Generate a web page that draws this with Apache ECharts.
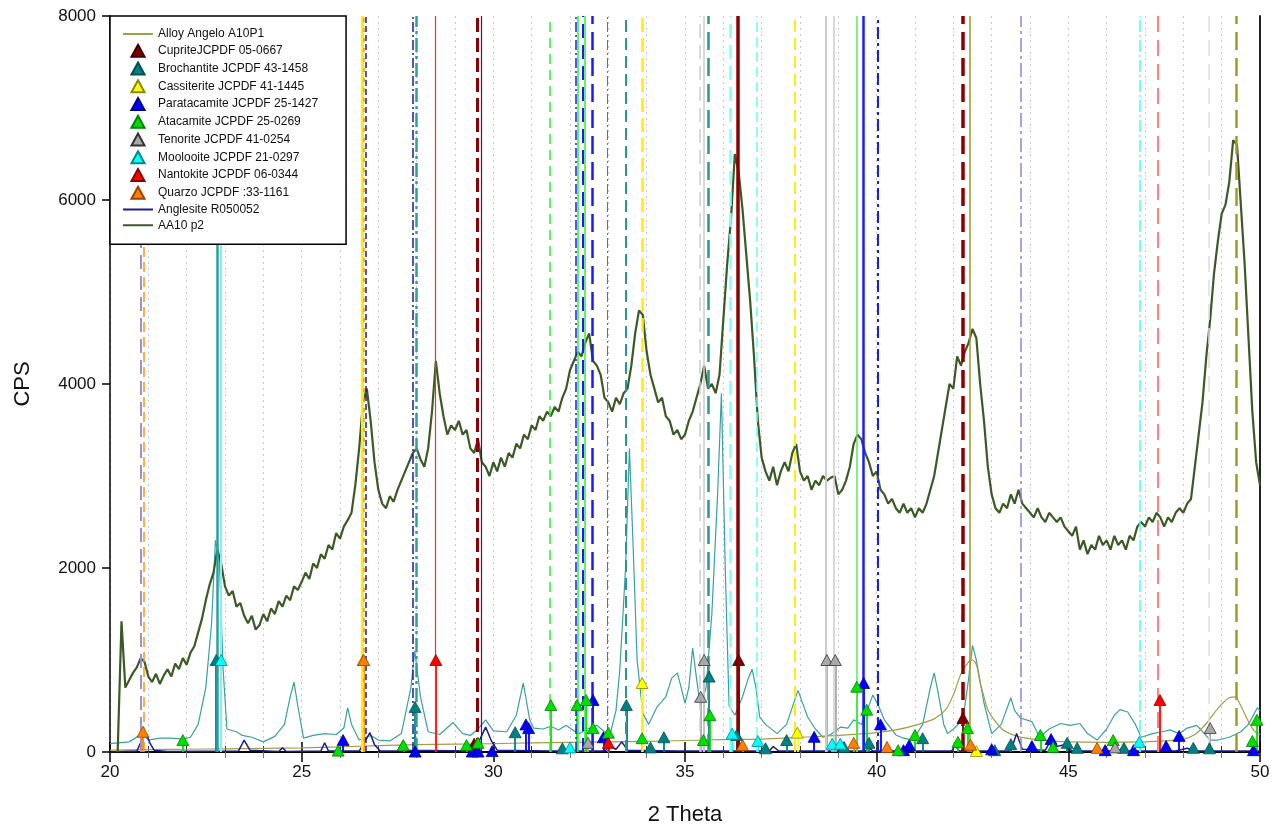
<!DOCTYPE html>
<html>
<head>
<meta charset="utf-8">
<script src="https://cdn.jsdelivr.net/npm/echarts@6/dist/echarts.min.js"></script>
<style>
html, body { margin: 0; background: #fff; }
#chart { width: 1280px; height: 831px; }
</style>
</head>
<body>
<div id="chart"></div>
<script>
var font = "Liberation Sans";

// AA10 p2 measured pattern, one reading every 0.1 deg from 20.2
var aaStart = 20.2;
var aaStep = 0.1;
var aaCps = [
	0, 1420, 700, 780, 860, 920, 1020, 980, 820, 760,          // 20.2
	850, 740, 830, 900, 820, 960, 900, 1020, 950, 1080,        // 21.2
	1150, 1300, 1450, 1650, 1820, 1950, 2200, 2050, 1800, 1700, // 22.2
	1750, 1580, 1620, 1480, 1400, 1480, 1330, 1380, 1500, 1420, // 23.2
	1560, 1500, 1640, 1580, 1700, 1650, 1800, 1760, 1850, 1950, // 24.2
	1880, 2050, 2000, 2150, 2100, 2250, 2200, 2380, 2320, 2450, // 25.2
	2520, 2600, 2900, 3300, 3800, 3950, 3600, 3150, 2850, 2700, // 26.2
	2650, 2780, 2720, 2850, 2950, 3050, 3150, 3250, 3300, 3180, // 27.2
	3100, 3300, 3700, 4250, 3900, 3650, 3450, 3550, 3500, 3600, // 28.2
	3450, 3500, 3300, 3250, 3400, 3150, 3100, 3000, 3150, 3050, // 29.2
	3200, 3100, 3250, 3200, 3350, 3300, 3450, 3400, 3550, 3500, // 30.2
	3650, 3600, 3700, 3650, 3750, 3700, 3850, 3950, 4150, 4250, // 31.2
	4350, 4300, 4450, 4550, 4250, 4200, 4100, 3850, 3800, 3700, // 32.2
	3850, 3780, 3900, 3950, 4200, 4550, 4800, 4750, 4350, 4100, // 33.2
	3950, 3800, 3850, 3650, 3600, 3450, 3500, 3400, 3450, 3600, // 34.2
	3700, 3850, 4000, 4200, 3950, 4000, 3900, 4100, 4700, 5300, // 35.2
	5800, 6500, 6300, 5900, 5400, 4900, 4300, 3600, 3200, 3050, // 36.2
	2950, 3100, 2900, 3050, 3150, 3050, 3250, 3350, 3050, 2950, // 37.2
	3000, 2850, 2950, 2900, 3000, 2950, 2980, 3000, 2800, 2850, // 38.2
	2950, 3100, 3350, 3450, 3400, 3250, 3150, 3000, 3050, 2850, // 39.2
	2800, 2700, 2750, 2650, 2600, 2700, 2600, 2650, 2550, 2650, // 40.2
	2600, 2700, 2850, 3000, 3250, 3500, 3750, 4000, 3950, 4300, // 41.2
	4200, 4350, 4450, 4600, 4500, 4000, 3600, 3100, 2800, 2650, // 42.2
	2600, 2700, 2650, 2800, 2700, 2850, 2700, 2650, 2600, 2550, // 43.2
	2650, 2550, 2500, 2600, 2550, 2500, 2550, 2450, 2400, 2350, // 44.2
	2450, 2200, 2300, 2150, 2250, 2200, 2350, 2250, 2300, 2200, // 45.2
	2350, 2250, 2300, 2200, 2350, 2300, 2450, 2500, 2450, 2550, // 46.2
	2500, 2600, 2550, 2450, 2550, 2500, 2600, 2650, 2600, 2700, // 47.2
	2750, 3100, 3450, 3800, 4300, 4700, 5200, 5550, 5850, 5950, // 48.2
	6200, 6650, 6600, 5950, 5300, 4500, 3700, 3150, 2900        // 49.2
];

// teal reference trace (not in legend)
var tealTheta = [20.0, 20.5, 20.85, 21.0, 21.3, 21.6, 21.9, 22.1, 22.3, 22.5, 22.65, 22.75, 22.85, 22.95, 23.05, 23.3, 23.45, 23.7, 24.0, 24.3, 24.55, 24.7, 24.8, 24.9, 25.05, 25.3, 25.6, 25.9, 26.1, 26.2, 26.3, 26.5, 26.8, 27.0, 27.3, 27.6, 27.85, 27.95, 28.1, 28.3, 28.6, 28.95, 29.2, 29.4, 29.6, 29.8, 30.0, 30.35, 30.6, 30.78, 30.95, 31.05, 31.3, 31.5, 31.7, 31.9, 32.1, 32.25, 32.45, 32.7, 32.9, 33.05, 33.2, 33.3, 33.45, 33.55, 33.65, 33.75, 33.9, 34.05, 34.27, 34.5, 34.65, 34.8, 34.9, 35.0, 35.1, 35.2, 35.3, 35.4, 35.55, 35.7, 35.85, 35.95, 36.05, 36.15, 36.3, 36.5, 36.65, 36.75, 36.85, 36.95, 37.1, 37.4, 37.65, 37.85, 37.95, 38.05, 38.2, 38.4, 38.6, 38.8, 39.05, 39.25, 39.4, 39.6, 39.75, 39.9, 40.05, 40.2, 40.5, 40.7, 40.95, 41.2, 41.4, 41.5, 41.6, 41.75, 41.85, 42.0, 42.25, 42.4, 42.5, 42.6, 42.8, 43.0, 43.25, 43.5, 43.6, 43.75, 44.05, 44.25, 44.5, 44.8, 45.05, 45.3, 45.5, 45.75, 46.0, 46.2, 46.35, 46.55, 46.75, 46.9, 47.2, 47.45, 47.65, 47.9, 48.1, 48.35, 48.55, 48.7, 48.9, 49.2, 49.5, 49.7, 49.93, 50.0];
var tealCps = [90, 110, 200, 130, 150, 150, 140, 160, 300, 700, 1400, 2300, 2100, 900, 250, 220, 180, 160, 110, 170, 300, 600, 760, 500, 150, 180, 200, 190, 260, 480, 300, 130, 180, 130, 120, 200, 700, 1100, 600, 220, 190, 320, 200, 180, 250, 350, 230, 220, 400, 750, 350, 260, 250, 280, 240, 290, 230, 200, 250, 290, 220, 200, 450, 900, 2000, 3300, 2200, 1000, 420, 300, 490, 600, 800, 860, 700, 530, 700, 1130, 800, 500, 700, 1500, 2800, 3900, 2000, 500, 400, 600, 800, 900, 700, 380, 300, 200, 300, 550, 670, 550, 380, 250, 160, 190, 270, 260, 350, 300, 450, 620, 500, 350, 185, 150, 130, 300, 700, 860, 650, 300, 200, 250, 350, 800, 1160, 1000, 530, 200, 300, 590, 450, 370, 330, 160, 250, 310, 290, 310, 200, 130, 250, 400, 460, 435, 300, 160, 200, 220, 240, 200, 260, 290, 200, 130, 130, 160, 220, 300, 480, 450];

// Alloy Angelo A10P1
var alloyTheta = [20, 21, 22, 23, 24, 25, 26, 27, 28, 29, 30, 31, 32, 33, 34, 35, 36, 37, 38, 39, 40, 40.5, 41, 41.5, 41.8, 42.0, 42.2, 42.4, 42.5, 42.6, 42.7, 42.8, 42.9, 43.1, 43.3, 43.6, 43.9, 44.5, 45, 46, 47, 47.5, 48, 48.3, 48.6, 48.8, 49.0, 49.2, 49.35, 49.5, 49.7, 49.85, 50];
var alloyCps = [20, 25, 30, 35, 40, 45, 55, 70, 80, 85, 90, 100, 105, 110, 115, 125, 135, 140, 160, 180, 210, 240, 290, 360, 460, 620, 850, 980, 1000, 950, 750, 600, 460, 330, 240, 180, 150, 120, 110, 105, 110, 120, 140, 190, 310, 420, 520, 590, 600, 500, 330, 230, 190];

// Anglesite R050052
var anglTheta = [20.0, 20.7, 20.85, 20.95, 21.05, 21.15, 21.5, 23.35, 23.5, 23.65, 24.4, 24.5, 24.6, 25.5, 25.6, 25.7, 26.5, 26.7, 26.78, 26.9, 27.05, 27.5, 27.65, 27.75, 29.5, 29.7, 29.8, 29.95, 30.1, 31.5, 32.9, 33.05, 33.2, 33.35, 33.5, 34.8, 37.2, 37.3, 37.45, 39.7, 39.8, 39.9, 41.95, 42.05, 42.15, 43.5, 43.65, 43.8, 44.4, 44.55, 44.7, 44.9, 45.1, 47.8, 48.1, 48.3, 50.0];
var anglCps = [0, 10, 150, 190, 90, 20, 5, 10, 130, 20, 5, 45, 5, 10, 100, 10, 10, 150, 210, 80, 10, 10, 120, 20, 10, 180, 270, 120, 20, 10, 10, 60, 30, 110, 20, 10, 10, 60, 10, 10, 50, 10, 10, 70, 10, 10, 200, 30, 20, 130, 60, 80, 10, 10, 40, 10, 10];

// reference peaks [2theta, CPS]
var cuprite = [[29.5, 90], [36.4, 1000], [42.25, 370]];
var brochantite = [[22.77, 1000], [27.96, 490], [30.57, 215], [31.8, 40], [33.47, 510], [34.1, 50], [34.45, 160], [35.63, 820], [36.35, 185], [37.1, 40], [37.65, 130], [39.15, 55], [39.8, 100], [41.2, 150], [43.08, 20], [43.5, 85], [44.97, 100], [45.23, 45], [46.45, 45], [48.26, 45], [48.68, 40]];
var cassiterite = [[26.6, 1000], [33.88, 750], [37.93, 210], [42.6, 10]];
var paratacamite = [[26.08, 130], [27.96, 5], [29.45, 5], [29.6, 5], [29.97, 10], [30.85, 300], [30.92, 260], [32.6, 565], [32.87, 160], [38.37, 165], [39.66, 750], [40.1, 300], [40.7, 20], [40.85, 75], [43.0, 30], [44.05, 65], [44.55, 140], [45.96, 20], [46.7, 20], [47.55, 65], [47.89, 175], [49.83, 20]];
var atacamite = [[21.9, 130], [25.95, 15], [27.65, 75], [29.3, 75], [29.6, 100], [31.5, 510], [32.18, 510], [32.42, 565], [32.6, 260], [33.0, 210], [33.88, 150], [35.48, 130], [35.65, 400], [39.48, 710], [39.74, 460], [40.56, 20], [41.0, 185], [42.12, 110], [42.37, 260], [44.27, 185], [44.6, 55], [46.17, 130], [49.8, 120], [49.92, 350]];
var tenorite = [[32.47, 100], [35.41, 600], [35.5, 1000], [38.7, 1000], [38.92, 1000], [46.22, 50], [48.7, 260]];
var moolooite = [[22.9, 1000], [32.0, 50], [36.23, 200], [36.9, 120], [38.84, 90], [39.05, 90], [46.85, 110]];
var nantokite = [[28.5, 1000], [33.0, 100], [47.39, 565]];
var quarzo = [[20.86, 220], [26.62, 1000], [36.5, 75], [39.4, 100], [40.27, 55], [42.45, 80], [45.75, 45]];

// full height reference lines
var refTheta = [20.81, 20.88, 22.79, 22.9, 26.57, 26.62, 26.68, 27.9, 27.98, 28.48, 29.57, 29.68, 31.48, 32.15, 32.2, 32.34, 32.38, 32.58, 32.97, 33.46, 33.88, 35.39, 35.5, 35.6, 36.17, 36.38, 36.88, 37.87, 38.68, 38.89, 39.49, 39.64, 40.04, 42.25, 42.44, 43.77, 46.87, 47.34, 48.67, 49.38];
var refStyle = [
	["#9b93d0", 2, [14, 7]], ["#ff9020", 1.5, [10, 5]], ["#2e9e9e", 2.5, "solid"], ["#80f0f0", 2, "solid"],
	["#ffee00", 3, "solid"], ["#ff9020", 1.5, [4, 6]], ["#1c1c9c", 1.5, [6, 3]], ["#1c1c9c", 1.5, [10, 3, 2, 3]],
	["#2e9e9e", 2.5, [14, 4, 3, 4]], ["#ff2a2a", 1.2, "solid"], ["#8b0000", 3, [14, 6]], ["#1c1c9c", 1.2, "solid"],
	["#33ee33", 1.5, [10, 6]], ["#1a1aff", 1.5, [10, 3, 2, 3]], ["#33ee33", 1.5, "solid"], ["#1a1aff", 2, [14, 7]],
	["#33ee33", 1.5, "solid"], ["#1a1aff", 2.5, [18, 8]], ["#ff3333", 1, [10, 3, 2, 3]], ["#2a9696", 2, [12, 6]],
	["#ffee00", 2.5, [14, 6]], ["#cccccc", 1.5, [14, 7]], ["#cccccc", 1.5, "solid"], ["#2a9696", 2.5, [18, 8]],
	["#80ffff", 2.5, [14, 7]], ["#8b0000", 3.5, "solid"], ["#60ffff", 1.5, [10, 5]], ["#ffee00", 2, [12, 6]],
	["#cccccc", 2, "solid"], ["#cccccc", 1.5, "solid"], ["#55ee55", 1.5, "solid"], ["#1a1aff", 2.5, "solid"],
	["#1a1aff", 2, [12, 4, 3, 4]], ["#8b0000", 3.5, [18, 8]], ["#a09a20", 1.5, "solid"], ["#8a88cc", 1.5, [14, 4, 3, 4]],
	["#40ffff", 1.5, [12, 3, 2, 3]], ["#ff8080", 2, [16, 8]], ["#dddddd", 1.5, [16, 8]], ["#a09a20", 2.5, [18, 8]]
];

var lineNames = ["Alloy Angelo A10P1", "Anglesite R050052", "AA10 p2"];
var legendNames = ["Alloy Angelo A10P1", "CupriteJCPDF 05-0667", "Brochantite JCPDF 43-1458", "Cassiterite JCPDF 41-1445", "Paratacamite JCPDF 25-1427", "Atacamite JCPDF 25-0269", "Tenorite JCPDF 41-0254", "Moolooite JCPDF 21-0297", "Nantokite JCPDF 06-0344", "Quarzo JCPDF :33-1161", "Anglesite R050052", "AA10 p2"];

function pairs(xs, ys) {
	return xs.map(function (x, i) { return [x, ys[i]]; });
}

function phase(name, pts, color, border) {
	return {
		name: name,
		type: "scatter",
		z: 5,
		symbol: "triangle",
		symbolSize: [12, 11],
		itemStyle: { color: color, borderColor: border, borderWidth: 0.8, opacity: 1 },
		data: pts,
		markLine: {
			silent: true,
			symbol: ["none", "none"],
			label: { show: false },
			lineStyle: { color: color, width: 2, type: "solid", opacity: 0.9 },
			data: pts.map(function (p) {
				return [{ coord: [p[0], 0] }, { coord: [p[0], p[1]] }];
			})
		}
	};
}

var aaData = aaCps.map(function (v, i) { return [+(aaStart + i * aaStep).toFixed(2), v]; });

var refLines = refTheta.map(function (t, i) {
	var s = refStyle[i];
	return { xAxis: t, lineStyle: { color: s[0], width: s[1], type: s[2] } };
});

// legend: plain line for the traces, small triangle for the phases
var legendData = legendNames.map(function (n) {
	if (lineNames.indexOf(n) >= 0) {
		return { name: n, itemStyle: { opacity: 0 } };
	}
	return { name: n, icon: "path://M6,0L12,11L0,11Z" };
});

var myChart = echarts.init(document.getElementById("chart"), null, { renderer: "canvas" });
var option = {
	animation: false,
	backgroundColor: "#fff",
	textStyle: { fontFamily: font },
	grid: { left: 110, right: 20, top: 16, bottom: 79 },
	legend: {
		data: legendData,
		orient: "vertical",
		left: 110,
		top: 16,
		z: 10,
		backgroundColor: "#fff",
		borderColor: "#000",
		borderWidth: 1.5,
		borderRadius: 0,
		padding: [12, 28, 13, 12],
		itemWidth: 30,
		itemHeight: 12,
		itemGap: 3.75,
		symbolKeepAspect: true,
		selectedMode: false,
		textStyle: { fontSize: 12, color: "#111", fontFamily: font }
	},
	xAxis: [
		{
			type: "value",
			min: 20,
			max: 50,
			interval: 5,
			name: "2 Theta",
			nameLocation: "middle",
			nameGap: 52,
			nameTextStyle: { fontSize: 22, color: "#111" },
			axisLine: { lineStyle: { color: "#000", width: 1.5 } },
			axisTick: { inside: true, length: 10, lineStyle: { color: "#000", width: 1.5 } },
			minorTick: { show: true, splitNumber: 5, length: 6, lineStyle: { color: "#333" } },
			axisLabel: { fontSize: 17, color: "#111", margin: 12 },
			splitLine: { show: true, lineStyle: { color: "#c8c8c8", type: [2, 4], width: 1 } },
			minorSplitLine: { show: true, lineStyle: { color: "#c8c8c8", type: [2, 4], width: 1 } }
		},
		{
			type: "value",
			position: "top",
			min: 20,
			max: 50,
			interval: 5,
			axisLine: { show: true, lineStyle: { color: "#000", width: 2 } },
			axisTick: { inside: true, length: 10, lineStyle: { color: "#000", width: 1.5 } },
			minorTick: { show: true, splitNumber: 5, length: 6, lineStyle: { color: "#777" } },
			axisLabel: { show: false },
			splitLine: { show: false }
		}
	],
	yAxis: [
		{
			type: "value",
			min: 0,
			max: 8000,
			interval: 2000,
			name: "CPS",
			nameLocation: "middle",
			nameGap: 76,
			nameTextStyle: { fontSize: 22, color: "#111" },
			axisLine: { show: true, lineStyle: { color: "#000", width: 1.5 } },
			axisTick: { show: true, length: 8, lineStyle: { color: "#000", width: 1.5 } },
			axisLabel: { fontSize: 17, color: "#111", margin: 14, formatter: function (v) { return String(v); } },
			splitLine: { show: false }
		},
		{
			type: "value",
			position: "right",
			min: 0,
			max: 8000,
			interval: 2000,
			axisLine: { show: true, lineStyle: { color: "#222", width: 2 } },
			axisTick: { show: false },
			axisLabel: { show: false },
			splitLine: { show: false }
		}
	],
	series: [
		{
			name: "Alloy Angelo A10P1",
			type: "line",
			z: 3,
			symbol: "none",
			smooth: 0.3,
			lineStyle: { color: "#a39d45", width: 1.2 },
			itemStyle: { color: "#a39d45" },
			data: pairs(alloyTheta, alloyCps)
		},
		phase("CupriteJCPDF 05-0667", cuprite, "#800000", "#400000"),
		phase("Brochantite JCPDF 43-1458", brochantite, "#008080", "#005050"),
		phase("Cassiterite JCPDF 41-1445", cassiterite, "#ffff00", "#8a8a00"),
		phase("Paratacamite JCPDF 25-1427", paratacamite, "#0000ff", "#00008a"),
		phase("Atacamite JCPDF 25-0269", atacamite, "#00e000", "#008000"),
		phase("Tenorite JCPDF 41-0254", tenorite, "#a8a8a8", "#333"),
		phase("Moolooite JCPDF 21-0297", moolooite, "#00ffff", "#008a8a"),
		phase("Nantokite JCPDF 06-0344", nantokite, "#ff0000", "#8a0000"),
		phase("Quarzo JCPDF :33-1161", quarzo, "#ff8000", "#a04000"),
		{
			name: "Anglesite R050052",
			type: "line",
			z: 3,
			symbol: "none",
			lineStyle: { color: "#1c1c8c", width: 1.5 },
			itemStyle: { color: "#1c1c8c" },
			data: pairs(anglTheta, anglCps)
		},
		{
			name: "AA10 p2",
			type: "line",
			z: 4,
			symbol: "none",
			lineStyle: { color: "#3b5a25", width: 2.2 },
			itemStyle: { color: "#3b5a25" },
			data: aaData
		},
		{
			name: "teal trace",
			type: "line",
			z: 2,
			symbol: "none",
			lineStyle: { color: "#3aa0a0", width: 1.2 },
			data: pairs(tealTheta, tealCps),
			markLine: {
				silent: true,
				symbol: ["none", "none"],
				label: { show: false },
				data: refLines
			}
		}
	]
};
myChart.setOption(option);
window.addEventListener("resize", myChart.resize);
</script>
</body>
</html>
